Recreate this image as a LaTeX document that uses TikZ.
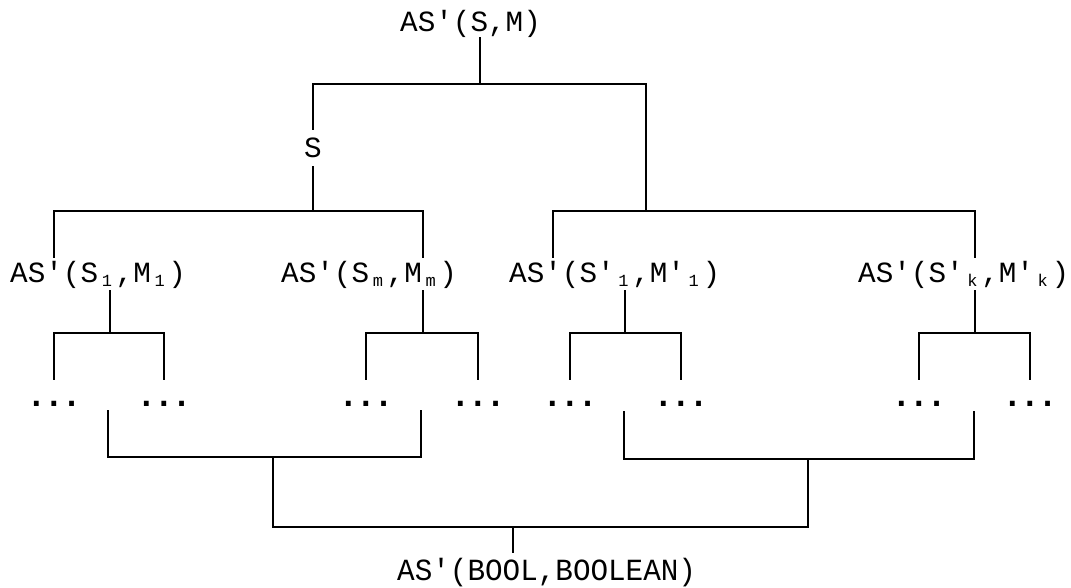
\documentclass[tikz,border=0pt]{standalone}
\usepackage{fontspec}
\setmonofont{Liberation Mono}
\newfontfamily\dotfont{DejaVu Sans Mono}
\newcommand\sbx[1]{\makebox[0.6em][c]{\raisebox{-4pt}{\fontsize{17}{17}\selectfont #1}}}
\tikzset{
  lbl/.style={font=\ttfamily\fontsize{29.3}{30}\selectfont, inner sep=0pt, anchor=base west},
  midlbl/.style={lbl, text height=25pt, text depth=7pt},
  dotgrp/.style={font=\dotfont\bfseries\fontsize{29.2}{30}\selectfont, inner sep=0pt, anchor=base, text height=26pt},
  conn/.style={line width=1.6pt, line join=miter},
}
\begin{document}
\begin{tikzpicture}[x=1pt, y=-1pt]
\useasboundingbox (0,0) rectangle (1071,588);

% ---- text nodes
\node[lbl, text depth=5pt] (top) at (400,32) {AS'(S,M)};
\node[font=\ttfamily\fontsize{29.3}{30}\selectfont, inner xsep=0pt, inner ysep=8pt] (s) at (313,148) {S};
\node[midlbl] (n1) at (10,283)  {AS'(S\sbx{1},M\sbx{1})};
\node[midlbl] (n2) at (281,283) {AS'(S\sbx{m},M\sbx{m})};
\node[midlbl] (n3) at (509,283) {AS'(S'\sbx{1},M'\sbx{1})};
\node[midlbl] (n4) at (858,283) {AS'(S'\sbx{k},M'\sbx{k})};
\node[lbl, text height=27pt] (bot) at (397,580) {\scalebox{1}[1.05]{AS'(BOOL,BOOLEAN)}};

\node[dotgrp] (d1) at (54,406)  {...};
\node[dotgrp] (d2) at (164,406) {...};
\node[dotgrp] (d3) at (366,406) {...};
\node[dotgrp] (d4) at (478,406) {...};
\node[dotgrp] (d5) at (570,406) {...};
\node[dotgrp] (d6) at (681,406) {...};
\node[dotgrp] (d7) at (919,406) {...};
\node[dotgrp] (d8) at (1030,406) {...};

% ---- junction coordinates
\coordinate (tj) at (480,84);
\coordinate (tl) at (313,84);
\coordinate (tr) at (646,84);
\coordinate (ll) at (54,211);
\coordinate (lm) at (313,211);
\coordinate (lr) at (423,211);
\coordinate (rl) at (553,211);
\coordinate (rm) at (646,211);
\coordinate (rr) at (975,211);

\coordinate (j1) at (110,333);
\coordinate (j2) at (423,333);
\coordinate (j3) at (625,333);
\coordinate (j4) at (975,333);

\coordinate (bl1) at (108,410);
\coordinate (bl2) at (421,410);
\coordinate (blm) at (273,457);
\coordinate (br1) at (624,411);
\coordinate (br2) at (974,411);
\coordinate (brm) at (808,459);
\coordinate (bbl) at (273,527);
\coordinate (bbm) at (513,527);
\coordinate (bbr) at (808,527);

% ---- top level
\draw[conn] (top.south -| tj) -- (tj);
\draw[conn] (s.north) -- (tl) -- (tr) -- (rm);
\draw[conn] (s.south) -- (lm);

% ---- second level bars
\draw[conn] (n1.north -| ll) -- (ll) -- (lr) -- (n2.north -| lr);
\draw[conn] (n3.north -| rl) -- (rl) -- (rr) -- (n4.north -| rr);

% ---- third level
\draw[conn] (n1.south -| j1) -- (j1);
\draw[conn] (d1.north) -- (d1.north |- j1) -- (d2.north |- j1) -- (d2.north);
\draw[conn] (n2.south -| j2) -- (j2);
\draw[conn] (d3.north) -- (d3.north |- j2) -- (d4.north |- j2) -- (d4.north);
\draw[conn] (n3.south -| j3) -- (j3);
\draw[conn] (d5.north) -- (d5.north |- j3) -- (d6.north |- j3) -- (d6.north);
\draw[conn] (n4.south -| j4) -- (j4);
\draw[conn] (d7.north) -- (d7.north |- j4) -- (d8.north |- j4) -- (d8.north);

% ---- merging bars
\draw[conn] (bl1) -- (bl1 |- blm) -- (bl2 |- blm) -- (bl2);
\draw[conn] (br1) -- (br1 |- brm) -- (br2 |- brm) -- (br2);
\draw[conn] (blm) -- (bbl) -- (bbr) -- (brm);
\draw[conn] (bbm) -- (bot.north -| bbm);
\end{tikzpicture}
\end{document}
